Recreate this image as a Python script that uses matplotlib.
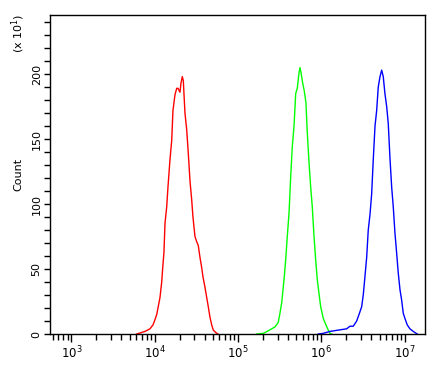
import numpy as np
import matplotlib
matplotlib.use("Agg")
import matplotlib.pyplot as plt
from matplotlib.ticker import FixedLocator, NullFormatter

# histogram traces: log10 of fluorescence intensity, and counts (x10)
red_log = [3.785, 3.884, 3.944, 3.980, 4.004, 4.025, 4.040, 4.064, 4.085, 4.097,
           4.112, 4.124, 4.145, 4.160, 4.184, 4.205, 4.220, 4.244, 4.265, 4.280,
           4.304, 4.316, 4.332, 4.344, 4.364, 4.385, 4.404, 4.424, 4.445, 4.460,
           4.484, 4.505, 4.524, 4.544, 4.565, 4.580, 4.604, 4.625, 4.644, 4.664,
           4.685, 4.704, 4.736, 4.760]
red_count = [0, 2, 4, 7, 11, 15, 20, 28, 40, 51,
             63, 85, 98, 113, 134, 149, 172, 184, 189, 189,
             186, 193, 198, 195, 170, 157, 139, 118, 103, 90,
             75, 71, 68, 59, 51, 44, 36, 28, 21, 13,
             7, 3, 1, 0]

green_log = [5.225, 5.304, 5.364, 5.405, 5.445, 5.484, 5.504, 5.525, 5.544, 5.556,
             5.573, 5.592, 5.613, 5.633, 5.652, 5.673, 5.693, 5.712, 5.733, 5.745,
             5.757, 5.777, 5.796, 5.816, 5.832, 5.853, 5.873, 5.892, 5.913, 5.933,
             5.952, 5.973, 5.993, 6.024, 6.056, 6.084, 6.104, 6.125]
green_count = [0, 0.5, 2.5, 4, 5.5, 9, 16, 24, 36, 44,
               57, 75, 93, 121, 144, 160, 185, 189, 201, 205,
               201, 193, 187, 178, 155, 132, 113, 98, 75, 57,
               42, 31, 21, 12, 7, 3, 0.5, 0]

blue_log = [5.964, 6.024, 6.104, 6.204, 6.305, 6.344, 6.384, 6.425, 6.453, 6.485,
            6.504, 6.524, 6.545, 6.564, 6.585, 6.605, 6.624, 6.645, 6.665, 6.684,
            6.705, 6.725, 6.744, 6.764, 6.785, 6.804, 6.824, 6.845, 6.864, 6.884,
            6.905, 6.924, 6.945, 6.965, 6.984, 7.004, 7.032, 7.064, 7.104, 7.152]
blue_count = [0, 0.5, 2, 3, 4, 6, 6, 10, 15, 21,
              30, 44, 59, 80, 92, 108, 134, 160, 172, 190,
              198, 203, 198, 185, 175, 162, 136, 113, 98, 78,
              62, 47, 34, 26, 16, 12, 7, 4, 2, 0]

decades = [3, 4, 5, 6, 7]
y_major = [0, 50, 100, 150, 200]

fig = plt.figure(figsize=(4.44, 3.65), dpi=100)
ax = fig.add_axes([0.1126, 0.0849, 0.8446, 0.874])

for logs, counts, col in [(red_log, red_count, '#ff0000'),
                          (green_log, green_count, '#00ff00'),
                          (blue_log, blue_count, '#0000ff')]:
    ax.plot(10 ** np.array(logs), counts, color=col, linewidth=1.0)

ax.set_xscale('log')
ax.set_xlim(10 ** 2.744, 10 ** 7.245)
ax.set_ylim(0, 245.4)

# x ticks: decades labelled, 2..9 minor
ax.xaxis.set_major_locator(FixedLocator([10.0 ** d for d in decades]))
ax.set_xticklabels([r'$\mathregular{10^{%d}}$' % d for d in decades], fontsize=8.5)
minor_x = [m * 10.0 ** d for d in range(2, 8) for m in range(2, 10)]
ax.xaxis.set_minor_locator(FixedLocator(minor_x))
ax.xaxis.set_minor_formatter(NullFormatter())

ax.yaxis.set_major_locator(FixedLocator(y_major))
ax.set_yticklabels([str(v) for v in y_major], rotation=90, va='center', fontsize=8)
ax.yaxis.set_minor_locator(FixedLocator(np.arange(0, 250, 10)))

ax.tick_params(axis='x', which='major', direction='out', length=6, width=1, pad=2)
ax.tick_params(axis='x', which='minor', direction='out', length=4, width=1)
ax.tick_params(axis='y', which='both', direction='out', length=4, width=1, pad=2)

for s in ax.spines.values():
    s.set_linewidth(1.0)

ax.set_ylabel('Count', fontsize=8, labelpad=6)
fig.text(18 / 444, 1 - 33 / 365, r'(x 10$^{\mathregular{1}}$)', rotation=90,
         ha='center', va='center', fontsize=8)

fig.savefig('out.png', dpi=100)
